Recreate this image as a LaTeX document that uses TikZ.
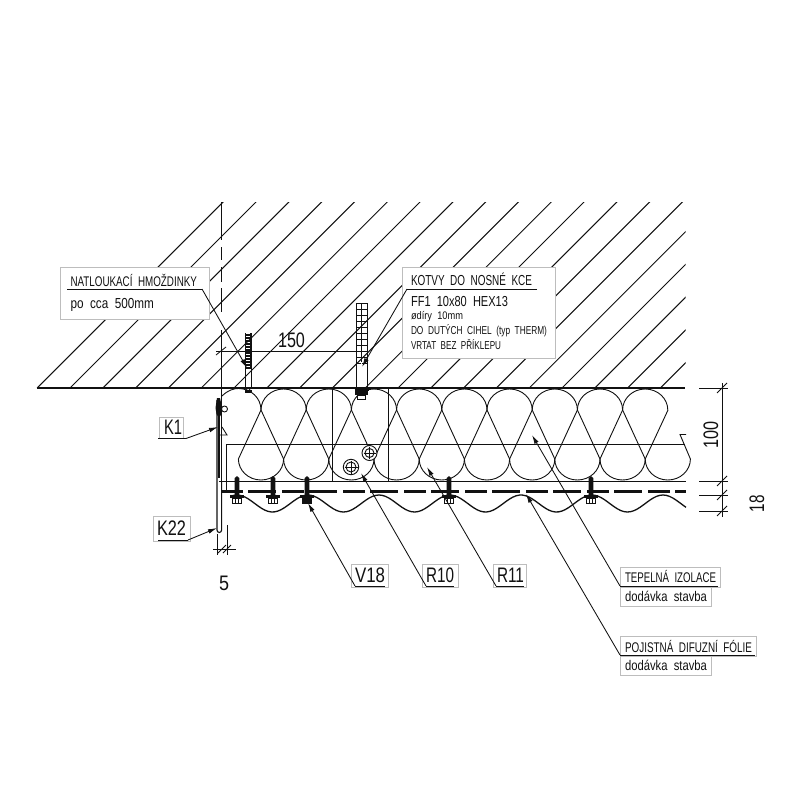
\documentclass[tikz,border=0pt]{standalone}
\usepackage{fontspec}
\usepackage{graphicx}
\usetikzlibrary{arrows.meta}
\setmainfont{Liberation Sans}
\definecolor{ink}{HTML}{111111}
\definecolor{boxgray}{HTML}{BDBDBD}
\newcommand{\fit}[3]{\resizebox{#2pt}{\height}{\fontsize{#1}{#1}\selectfont #3}}
\tikzset{
  thin line/.style={line width=0.9pt,draw=ink},
  mid line/.style={line width=1.1pt,draw=ink},
  hatch line/.style={line width=1pt,draw=ink},
  labelbox/.style={draw=boxgray,fill=white,line width=0.8pt,inner sep=0pt,outer sep=0pt},
  cadtext/.style={anchor=base west,inner sep=0pt,outer sep=0pt,text=ink},
  leader/.style={line width=0.85pt,draw=ink,-{Latex[length=9pt,width=4.6pt]}},
  under/.style={line width=1pt,draw=ink},
  dimtick/.style={line width=0.8pt,draw=ink},
}
\begin{document}
\begin{tikzpicture}[x=1pt,y=-1pt]
\useasboundingbox (0,0) rectangle (800,800);
\fill[white] (0,0) rectangle (800,800);
% masonry hatch
\begin{scope}
\clip (35,202) rectangle (685.5,388);
\foreach \k in {-1,...,24} {
  \draw[hatch line] ({70+32.8*\k},388) -- ({70+32.8*\k+200},188);
}
\end{scope}
\draw[mid line] (37,388) -- (685,388);
% centre axis
\draw[thin line] (221,202) -- (221,240) (221,247) -- (221,260) (221,267) -- (221,282) (221,288) -- (221,312) (221,330) -- (221,388);
% insulation coil
\foreach \i in {0,...,8} {
  \pgfmathsetmacro{\ux}{261+45.2*\i}
  \pgfmathsetmacro{\lx}{\ux-22.6}
  \draw[thin line] (\ux,410) arc[start angle=180,end angle=0,x radius=22.6pt,y radius=21pt];
  \draw[thin line] (\ux,410) -- (\lx,459);
  \draw[thin line] (\ux,410) -- ({\ux+22.6},459);
  \draw[thin line] (\lx,459) arc[start angle=180,end angle=360,x radius=22.6pt,y radius=21pt];
}
\draw[thin line] (645.2,459) arc[start angle=180,end angle=360,x radius=22.6pt,y radius=21pt] -- (680,434.5) -- (686,434.5);
\draw[thin line] (668,410) -- (645.2,459);
\draw[thin line] (222,396) .. controls (228,390) and (234,388.5) .. (238.4,388.5) .. controls (251,388.5) and (261,398) .. (261,410);
% substructure
\draw[thin line] (226,490) -- (226,444) -- (685,444);
\draw[thin line] (219,481) -- (686,481);
\draw[thin line] (221.5,388) -- (221.5,481);
\draw[thin line] (332,388) rectangle (388,481);
\draw[line width=2.2pt,draw=ink,dash pattern=on 22pt off 5pt on 28pt off 6pt] (221,491.5) -- (686,491.5);
% corrugated sheet
\draw[line width=1.3pt,draw=ink] plot[domain=232:686,samples=140,smooth] (\x,{503.5-8.5*cos((\x-237)/71*360)});
% bolts
\foreach \cx/\cy/\ro/\ri in {351/467/7.7/5,369.5/453/7.5/4.5} {
  \draw[thin line,fill=white] (\cx,\cy) circle[radius=\ro pt];
  \draw[thin line] (\cx,\cy) circle[radius=\ri pt];
  \draw[thin line] ({\cx-\ri-1.5},\cy) -- ({\cx+\ri+1.5},\cy) (\cx,{\cy-\ri-1.5}) -- (\cx,{\cy+\ri+1.5});
}
% screws
\foreach \sx in {237,273,307,449,591} {
  \fill[ink] ({\sx-2.3},495) -- ({\sx-2.3},478) .. controls ({\sx-1.5},475.5) and ({\sx+1.5},475.5) .. ({\sx+2.3},478) -- ({\sx+2.3},495) -- cycle;
  \draw[line width=2.4pt,draw=ink] ({\sx-7},496.5) -- ({\sx+7},496.5);
  \draw[line width=0.7pt,draw=ink,fill=white] ({\sx-4.5},498) rectangle ({\sx+4.5},503.5);
  \draw[line width=0.7pt,draw=ink] ({\sx-1.5},498) -- ({\sx-1.5},503.5) ({\sx+1.5},498) -- ({\sx+1.5},503.5);
}
\fill[ink] (303,497) rectangle (311,503.5);
% flashing K22 / K1
\draw[mid line] (217,400) -- (217,530) arc[start angle=180,end angle=360,x radius=2.3pt,y radius=2.5pt] -- (221.6,481);
\draw[line width=1.8pt,draw=ink] (219,400) -- (219,478);
\fill[ink] (217,398) -- (220,398) -- (221.5,405) -- (221.5,414) -- (219,418) -- (216.5,414) -- (215.5,408) -- cycle;
\draw[thin line] (224.5,409) circle[radius=3pt];
\draw[thin line] (222,427) -- (227,435) -- (218,435);
% small anchor
\draw[line width=0.8pt,draw=ink] (245.5,368) -- (245.5,388) (251,368) -- (251,388);
\foreach \yy in {335,338,...,368} { \draw[line width=1.4pt,draw=ink] (245,\yy) -- (251.5,\yy); }
\draw[line width=1.2pt,draw=ink] (245.5,333) -- (245.5,369) (251,333) -- (251,369);
\fill[ink] (244.5,390) rectangle (251.5,393);
\draw[line width=0.7pt,draw=ink] (245,388) -- (248,391) -- (251,388);
% large anchor
\draw[thin line] (356,360) -- (356,389) (367,360) -- (367,389);
\foreach \ax in {358.7,364.3} {
  \foreach \yy in {309,315,...,363} { \draw[line width=0.8pt,draw=ink] ({\ax-2.7},\yy) -- ({\ax+2.7},\yy); }
  \draw[line width=0.9pt,draw=ink] ({\ax-2.7},303) -- ({\ax-2.7},362) ({\ax+2.7},303) -- ({\ax+2.7},362);
  \draw[line width=1.8pt,draw=ink] ({\ax-2.7},303.5) -- ({\ax+2.7},303.5);
}
\draw[line width=2.5pt,draw=ink] (354.5,390) -- (368.5,390);
\fill[ink] (355,391) rectangle (368,395);
\draw[line width=0.7pt,draw=ink,fill=white] (357.5,395) rectangle (365.5,399);
% dimension 150
\coordinate (d150a) at (216,351); \coordinate (d150b) at (360,351);
\draw[thin line] (d150a) -- (d150b);
\draw[dimtick] (216,355) -- (226,347);
\node[cadtext] (t150) at (278,347) {\fit{21}{27}{150}};
% dimension right
\draw[thin line] (722,383) -- (722,517);
\foreach \yy in {388,481,495,511} {
  \draw[thin line] (699,\yy) -- (728,\yy);
  \draw[dimtick] (717,{\yy+5}) -- (727,{\yy-5});
}
\node[cadtext,rotate=90] (t100) at (718,448) {\fit{21}{27}{100}};
\node[cadtext,rotate=90] (t18) at (764,512) {\fit{21}{17}{18}};
% dimension 5
\draw[thin line] (217,534) -- (217,555) (227,525) -- (227,555);
\draw[thin line] (213,549) -- (236,549);
\draw[dimtick] (218,553) -- (226,545);
\draw[dimtick] (223,553) -- (231,545);
\node[cadtext] (t5) at (219,590) {\fit{21}{10}{5}};
% label boxes
\node[labelbox,minimum width=149pt,minimum height=52pt] (boxA) at (134.5,293) {};
\node[labelbox,minimum width=153pt,minimum height=91pt] (boxB) at (478.5,312.5) {};
\node[labelbox,minimum width=24pt,minimum height=21pt] (boxK1) at (171,427.5) {};
\node[labelbox,minimum width=37pt,minimum height=25pt] (boxK22) at (171.5,528.5) {};
\node[labelbox,minimum width=37pt,minimum height=23pt] (boxV) at (369.5,575.5) {};
\node[labelbox,minimum width=36pt,minimum height=23pt] (boxR10) at (440,575.5) {};
\node[labelbox,minimum width=33pt,minimum height=23pt] (boxR11) at (509.5,575.5) {};
\node[labelbox,minimum width=100pt,minimum height=20pt] (boxT) at (670,577) {};
\node[labelbox,minimum width=91pt,minimum height=19pt] (boxTb) at (665.5,596.5) {};
\node[labelbox,minimum width=136pt,minimum height=20pt] (boxP) at (688,646) {};
\node[labelbox,minimum width=91pt,minimum height=19pt] (boxPb) at (665.5,665.5) {};
% texts
\node[cadtext] (tA1) at (70.5,286) {\fit{14}{126.5}{NATLOUKACÍ\ \ HMOŽDINKY}};
\node[cadtext] (tA2) at (70.5,308) {\fit{14.5}{83.5}{po\ \ cca\ \ 500mm}};
\node[cadtext] (tB1) at (411,285) {\fit{14.5}{121}{KOTVY\ \ DO\ \ NOSNÉ\ \ KCE}};
\node[cadtext] (tB2) at (411,306) {\fit{14.5}{97}{FF1\ \ 10x80\ \ HEX13}};
\node[cadtext] (tB3) at (411,319) {\fit{11}{52}{ødíry\ \ 10mm}};
\node[cadtext] (tB4) at (411,334) {\fit{11.5}{136}{DO\ \ DUTÝCH\ \ CIHEL\ \ (typ\ \ THERM)}};
\node[cadtext] (tB5) at (411,349) {\fit{11.5}{90}{VRTAT\ \ BEZ\ \ PŘÍKLEPU}};
\node[cadtext] (tK1) at (164,434) {\fit{21}{18}{K1}};
\node[cadtext] (tK22) at (157,535) {\fit{21}{29}{K22}};
\node[cadtext] (tV) at (355,582) {\fit{21}{30}{V18}};
\node[cadtext] (tR10) at (426,582) {\fit{21}{28}{R10}};
\node[cadtext] (tR11) at (497,582) {\fit{21}{27}{R11}};
\node[cadtext] (tT1) at (625,582) {\fit{14}{91}{TEPELNÁ\ \ IZOLACE}};
\node[cadtext] (tT2) at (625,601) {\fit{14}{82}{dodávka\ \ stavba}};
\node[cadtext] (tP1) at (625,652) {\fit{14}{127}{POJISTNÁ\ \ DIFUZNÍ\ \ FÓLIE}};
\node[cadtext] (tP2) at (625,670) {\fit{14}{82}{dodávka\ \ stavba}};
% leaders
\coordinate (aE) at (67,289); \coordinate (aK) at (202,289); \coordinate (aH) at (247,368);
\draw[under] (aE) -- (aK); \draw[leader] (aK) -- (aH);
\coordinate (bE) at (537,289); \coordinate (bK) at (407,289); \coordinate (bH) at (362,367);
\draw[under] (bE) -- (bK); \draw[leader] (bK) -- (bH);
\coordinate (k1E) at (158,438.5); \coordinate (k1K) at (186,438.5); \coordinate (k1H) at (218,427);
\draw[under] (k1E) -- (k1K); \draw[leader] (k1K) -- (k1H);
\coordinate (k22E) at (158,540); \coordinate (k22K) at (188,540); \coordinate (k22H) at (217,528);
\draw[under] (k22E) -- (k22K); \draw[leader] (k22K) -- (k22H);
\coordinate (vE) at (385,586); \coordinate (vK) at (355,586); \coordinate (vH) at (308,503);
\draw[under] (vE) -- (vK); \draw[leader] (vK) -- (vH);
\coordinate (r10E) at (454,586); \coordinate (r10K) at (426,586); \coordinate (r10H) at (361,473);
\draw[under] (r10E) -- (r10K); \draw[leader] (r10K) -- (r10H);
\coordinate (r11E) at (524,586); \coordinate (r11K) at (496,586); \coordinate (r11H) at (427,467);
\draw[under] (r11E) -- (r11K); \draw[leader] (r11K) -- (r11H);
\coordinate (tE) at (718,586); \coordinate (tK) at (620,586); \coordinate (tH) at (532,435);
\draw[under] (tE) -- (tK); \draw[leader] (tK) -- (tH);
\coordinate (pE) at (755,655); \coordinate (pK) at (620,655); \coordinate (pH) at (526,494);
\draw[under] (pE) -- (pK); \draw[leader] (pK) -- (pH);
\end{tikzpicture}
\end{document}
